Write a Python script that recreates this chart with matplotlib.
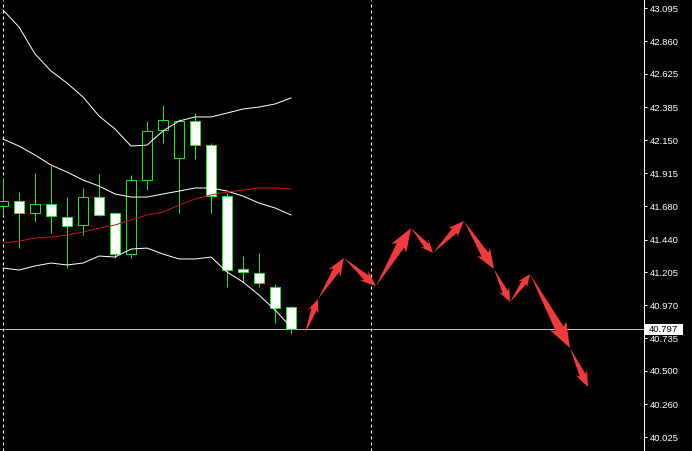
import numpy as np
import matplotlib
matplotlib.use("Agg")
import matplotlib.pyplot as plt
import matplotlib.transforms as mtransforms
from matplotlib.patches import Rectangle, Polygon

# candles (bar index 0..18), prices
opens  = [41.680, 41.716, 41.630, 41.694, 41.601, 41.544, 41.744, 41.630, 41.336, 41.866,
          42.224, 42.023, 42.288, 42.116, 41.751, 41.229, 41.200, 41.100, 40.957]
highs  = [41.880, 41.780, 41.916, 41.966, 41.744, 41.809, 41.909, 41.637, 41.902, 42.288,
          42.403, 42.302, 42.345, 42.131, 41.773, 41.322, 41.344, 41.122, 40.964]
lows   = [41.616, 41.379, 41.565, 41.487, 41.236, 41.472, 41.608, 41.308, 41.308, 41.794,
          42.131, 41.630, 42.016, 41.630, 41.100, 41.136, 41.100, 40.843, 40.764]
closes = [41.716, 41.630, 41.694, 41.608, 41.537, 41.744, 41.616, 41.336, 41.866, 42.217,
          42.295, 42.288, 42.116, 41.751, 41.222, 41.208, 41.129, 40.950, 40.797]

# bollinger bands + red moving average
bb_upper = [43.082, 42.961, 42.768, 42.646, 42.560, 42.460, 42.324, 42.231, 42.109, 42.116,
            42.217, 42.288, 42.317, 42.317, 42.345, 42.374, 42.388, 42.410, 42.453]
bb_mid   = [42.159, 42.109, 42.045, 41.973, 41.923, 41.866, 41.823, 41.766, 41.744, 41.744,
            41.766, 41.787, 41.809, 41.809, 41.787, 41.751, 41.701, 41.666, 41.616]
bb_lower = [41.236, 41.222, 41.251, 41.272, 41.258, 41.272, 41.322, 41.315, 41.372, 41.379,
            41.336, 41.301, 41.301, 41.315, 41.208, 41.136, 41.043, 40.936, 40.814]
ma_red   = [41.415, 41.429, 41.451, 41.458, 41.472, 41.494, 41.522, 41.544, 41.580, 41.616,
            41.637, 41.687, 41.730, 41.759, 41.780, 41.794, 41.809, 41.809, 41.802]

# forecast arrows path (bar index, price)
fc_x = [18.875, 19.69, 21.31, 23.31, 25.5, 26.875, 28.81, 30.69, 31.69, 32.94, 35.44, 36.56]
fc_y = [40.771, 41.014, 41.308, 41.107, 41.522, 41.344, 41.573, 41.229, 40.993, 41.193, 40.664, 40.385]

price_ticks = [43.095, 42.860, 42.625, 42.385, 42.150, 41.915, 41.680,
               41.440, 41.205, 40.970, 40.735, 40.500, 40.260, 40.025]
last_price = 40.797
separators = [0, 23]

plt.rcParams['font.family'] = ['Liberation Sans', 'DejaVu Sans']

fig = plt.figure(figsize=(6.92, 4.51), dpi=100, facecolor='black')
ax = fig.add_axes([0, 0, 644/692, 1])
ax.set_facecolor('black')
ax.set_xlim(-0.1875, 40.0625)
ax.set_ylim(39.927, 43.154)

green = '#1ee81e'
px = 0.72  # one pixel in points

for i in range(len(opens)):
    o, h, l, c = opens[i], highs[i], lows[i], closes[i]
    ax.plot([i, i], [l, h], color=green, lw=px, zorder=2, solid_capstyle='butt')
    fill = 'black' if c > o else 'white'
    ax.add_patch(Rectangle((i - 0.32, min(o, c)), 0.64, max(abs(c - o), 0.004),
                           facecolor=fill, edgecolor=green, lw=px, zorder=3))

idx = np.arange(len(bb_upper))
ax.plot(idx, bb_upper, color='white', lw=px, zorder=4)
ax.plot(idx, bb_mid, color='white', lw=px, zorder=4)
ax.plot(idx, bb_lower, color='white', lw=px, zorder=4)
ax.plot(idx, ma_red, color='#c8141e', lw=px, zorder=4)

for s in separators:
    ax.axvline(s, color='white', lw=px, ls=(0, (3, 3)), zorder=1)

ax.axhline(last_price, color='#bdbdbd', lw=px, zorder=1)

# red forecast arrows, shaped in pixel space
fig.canvas.draw()
to_px = ax.transData
to_data = ax.transData.inverted()
pts = to_px.transform(np.column_stack([fc_x, fc_y]))
for k in range(len(pts) - 1):
    p0, p1 = pts[k], pts[k + 1]
    d = p1 - p0
    L = np.hypot(d[0], d[1])
    u = d / L
    n = np.array([-u[1], u[0]])
    hl = np.clip(0.3 * L, 10, 22)
    hw = 0.6 * hl + 5
    sw = 0.5 * hw
    base = p1 - u * hl
    poly = [p0, base + n * sw / 2, base - u * 3 + n * hw / 2, p1,
            base - u * 3 - n * hw / 2, base - n * sw / 2]
    ax.add_patch(Polygon(to_data.transform(np.array(poly)), closed=True,
                         facecolor='#f23a3c', edgecolor='none', zorder=5))

for sp in ['top', 'left', 'bottom']:
    ax.spines[sp].set_visible(False)
ax.spines['right'].set_color('white')
ax.spines['right'].set_linewidth(px)
ax.set_xticks([])
ax.yaxis.tick_right()
ax.set_yticks(price_ticks)
ax.set_yticklabels(['%.3f' % t for t in price_ticks])
ax.tick_params(axis='y', colors='white', length=2.5, width=px, pad=2, labelsize=6.8)

blend = mtransforms.blended_transform_factory(ax.transAxes, ax.transData)
dy = (43.154 - 39.927) / 451
ax.add_patch(Rectangle((1 + 1/644, last_price - 5.5 * dy), 38/644, 11 * dy, transform=blend,
                       facecolor='white', edgecolor='none', clip_on=False, zorder=6))
ax.text(1 + 5/644, last_price, '%.3f' % last_price, transform=blend, color='black',
        fontsize=6.8, va='center', ha='left', clip_on=False, zorder=7)

fig.savefig('out.png', dpi=100, facecolor='black')
